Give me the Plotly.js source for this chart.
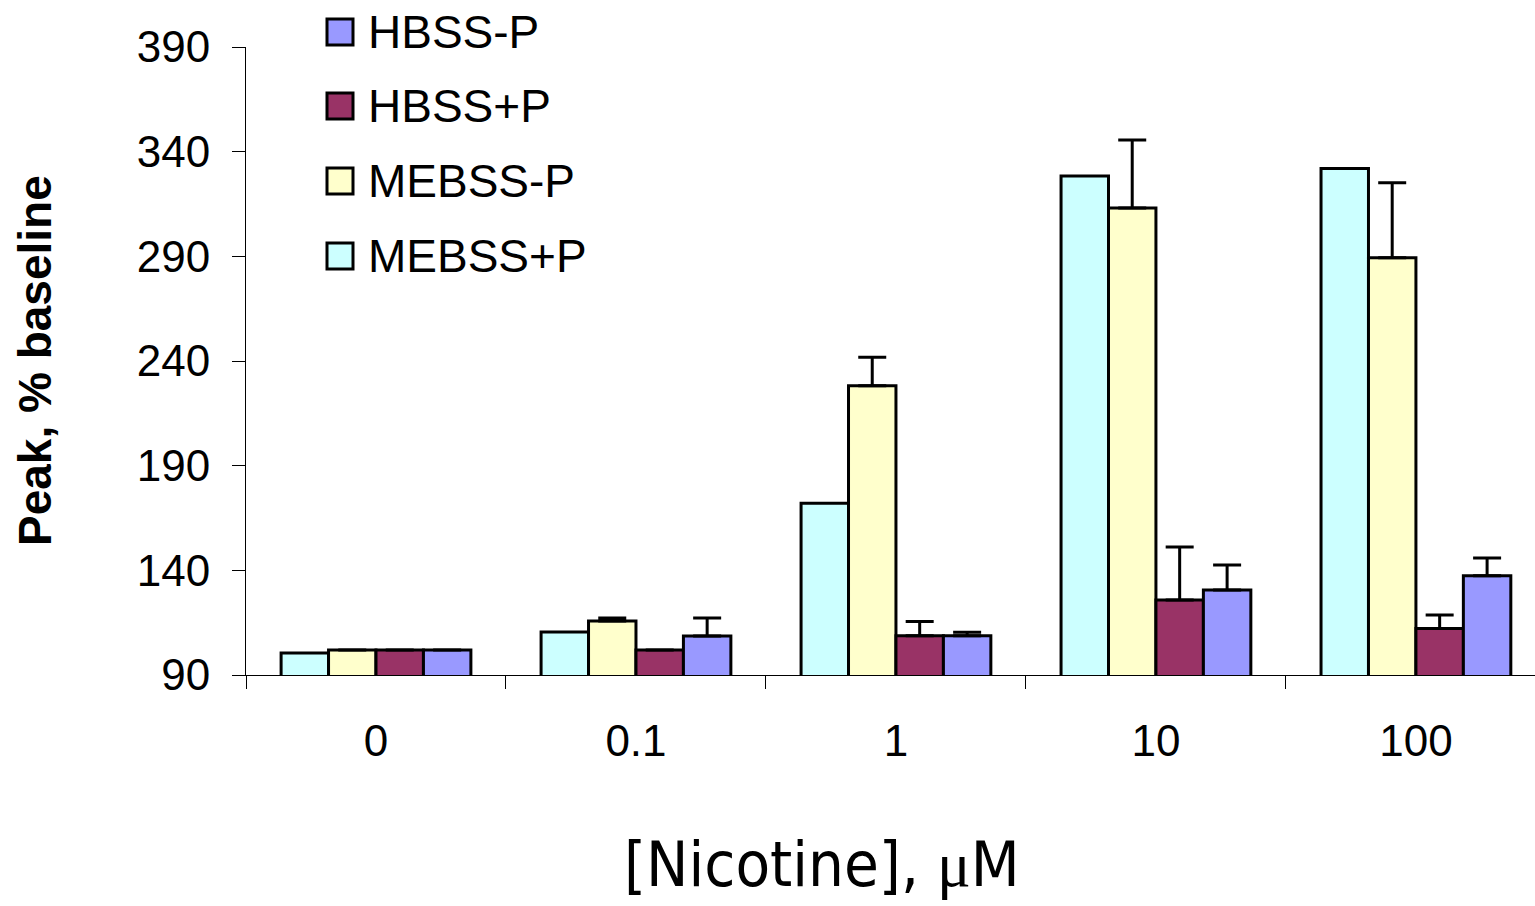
<!DOCTYPE html>
<html>
<head>
<meta charset="utf-8">
<script src="https://cdn.plot.ly/plotly-3.0.1.min.js"></script>
<style>html,body{margin:0;padding:0;background:#fff;}</style>
</head>
<body>
<div id="chart" style="width:1535px;height:906px;"></div>
<script>
// ---- data ----
const categories = ['0', '0.1', '1', '10', '100'];
const seriesNames = ['MEBSS+P', 'MEBSS-P', 'HBSS+P', 'HBSS-P'];
const mebssPlus  = [100.5, 110.5, 172.0, 328.4, 331.9];
const mebssMinus = [102.0, 115.8, 228.2, 313.1, 289.3];
const hbssPlus   = [102.0, 102.0, 108.8, 125.8, 112.2];
const hbssMinus  = [102.0, 108.6, 108.8, 130.6, 137.4];
const mebssMinusErr = [0, 1.4, 13.6, 32.5, 35.8];
const hbssPlusErr   = [0, 0, 6.7, 25.3, 6.5];
const hbssMinusErr  = [0, 8.6, 1.6, 11.9, 8.5];
const legendOrder = ['HBSS-P', 'HBSS+P', 'MEBSS-P', 'MEBSS+P'];
const yTicks = [90, 140, 190, 240, 290, 340, 390];

// ---- styling ----
const colors = {'MEBSS+P': '#CCFFFF', 'MEBSS-P': '#FFFFCC', 'HBSS+P': '#993366', 'HBSS-P': '#9999FF'};
const FONT = 'Liberation Sans, Arial, Helvetica, sans-serif';
const L = 246, T = 47, W = 1289, H = 628;
const px = xp => (xp - L) / W;
const py = yp => (T + H - yp) / H;

function errSpec(arr) {
  if (!arr) return {visible: false};
  return {
    type: 'data', symmetric: false,
    array: arr.map(v => v > 0 ? v : NaN),
    arrayminus: arr.map(() => 0),
    color: '#000', thickness: 3, width: 14
  };
}

const values = [mebssPlus, mebssMinus, hbssPlus, hbssMinus];
const errs = [null, mebssMinusErr, hbssPlusErr, hbssMinusErr];

const traces = seriesNames.map((name, i) => ({
  type: 'bar', name: name, x: categories, y: values[i],
  marker: {color: colors[name], line: {color: '#000', width: 3}},
  error_y: errSpec(errs[i]),
  showlegend: false, hoverinfo: 'x+y+name'
}));

// legend drawn as shapes + annotations
const shapes = [];
const annotations = [];
const legY = [32, 106, 181, 256];
legendOrder.forEach((name, i) => {
  const cy = legY[i];
  shapes.push({type: 'rect', xref: 'paper', yref: 'paper',
    x0: px(327), x1: px(353), y0: py(cy + 13), y1: py(cy - 13),
    fillcolor: colors[name], line: {color: '#000', width: 3}});
  annotations.push({xref: 'paper', yref: 'paper', x: px(366), y: py(cy),
    xanchor: 'left', yanchor: 'middle', showarrow: false, text: name,
    font: {family: FONT, size: 46, color: '#000'}});
});

annotations.push({xref: 'paper', yref: 'paper', x: px(35), y: py(361),
  xanchor: 'center', yanchor: 'middle', showarrow: false, textangle: -90,
  text: '<b>Peak, % baseline</b>', font: {family: FONT, size: 46, color: '#000'}});

annotations.push({xref: 'paper', yref: 'paper', x: px(822), y: py(864),
  xanchor: 'center', yanchor: 'middle', showarrow: false,
  text: '[Nicotine], <span style="font-family:Liberation Serif, serif">μ</span>M',
  font: {family: 'Liberation Sans Narrow, Arial Narrow, DejaVu Sans Condensed, sans-serif', size: 63, color: '#000'}});

const layout = {
  width: 1535, height: 906,
  margin: {l: L, r: 1535 - L - W, t: T, b: 906 - T - H, pad: 0},
  paper_bgcolor: '#fff', plot_bgcolor: '#fff',
  barmode: 'group', bargap: 0.27, bargroupgap: 0,
  showlegend: false,
  xaxis: {
    type: 'category', categoryorder: 'array', categoryarray: categories,
    range: [-0.5, 4.458], fixedrange: true,
    showline: true, linecolor: '#000', linewidth: 1, mirror: false,
    ticks: 'outside', tickson: 'boundaries', ticklen: 13, tickwidth: 1, tickcolor: '#000',
    showgrid: false, zeroline: false,
    tickfont: {family: FONT, size: 44, color: '#000'},
    ticklabelstandoff: 27
  },
  yaxis: {
    range: [90, 390], tickmode: 'array', tickvals: yTicks, ticktext: yTicks.map(String),
    showline: true, linecolor: '#000', linewidth: 1,
    ticks: 'outside', ticklen: 13, tickwidth: 1, tickcolor: '#000',
    showgrid: false, zeroline: false, fixedrange: true,
    tickfont: {family: FONT, size: 44, color: '#000'},
    ticklabelstandoff: 13
  },
  shapes: shapes,
  annotations: annotations
};

Plotly.newPlot('chart', traces, layout, {displayModeBar: false, staticPlot: true});
</script>
</body>
</html>
